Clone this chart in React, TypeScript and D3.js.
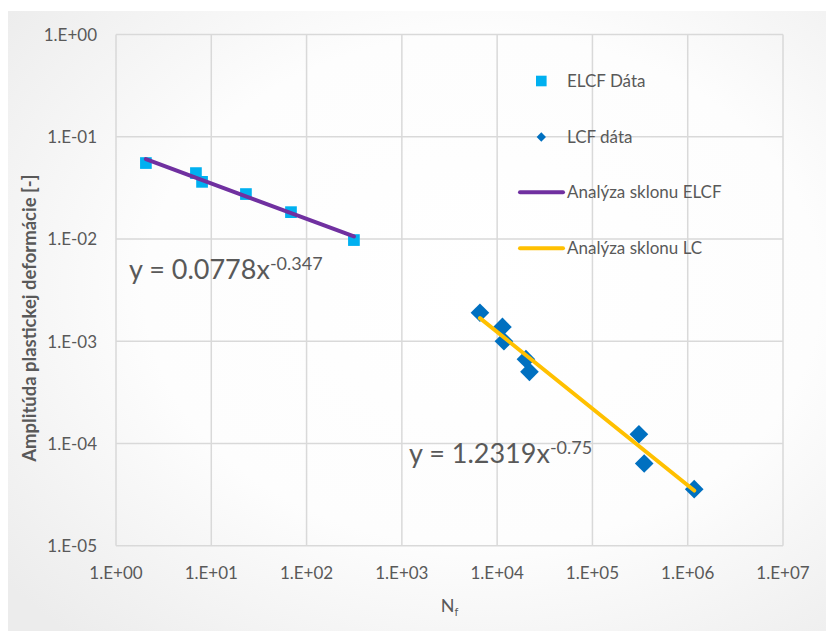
import React from "react";
import * as d3 from "d3";

const elcfN = [2.06, 6.9, 8.0, 23.1, 68.6, 314];
const elcfEps = [0.0553, 0.0441, 0.0362, 0.0275, 0.0183, 0.00976];
const lcfN = [6600, 11370, 11780, 20060, 21830, 307500, 349400, 1170000];
const lcfEps = [0.0019, 0.00138, 0.001, 0.000668, 0.000502, 0.000123, 0.0000637, 0.0000357];
const elcfFit = { a: 0.0778, b: -0.347 };
const lcfFit = { a: 1.2319, b: -0.75 };
const xTicks = [1, 10, 100, 1e3, 1e4, 1e5, 1e6, 1e7];
const xTickLabels = ["1.E+00", "1.E+01", "1.E+02", "1.E+03", "1.E+04", "1.E+05", "1.E+06", "1.E+07"];
const yTicks = [1, 0.1, 0.01, 0.001, 0.0001, 0.00001];
const yTickLabels = ["1.E+00", "1.E-01", "1.E-02", "1.E-03", "1.E-04", "1.E-05"];
const legendLabels = ["ELCF Dáta", "LCF dáta", "Analýza sklonu ELCF", "Analýza sklonu LC"];

const W = 826, H = 631;
const left = 116, right = 783, top = 34.5, bottom = 545.7;
const FONT = "Lato, 'Open Sans', sans-serif";
const TXT = "#595959";
const GRID = "#d9d9d9";

export default function App() {
  const x = d3.scaleLog().domain([1, 1e7]).range([left, right]);
  const y = d3.scaleLog().domain([1e-5, 1]).range([bottom, top]);
  const fitLine = (fit: { a: number; b: number }, xs: number[]) => {
    const [mn, mx] = d3.extent(xs) as [number, number];
    const pts: [number, number][] = [mn, mx].map((n) => [n, fit.a * Math.pow(n, fit.b)]);
    return d3.line<[number, number]>().x((d) => x(d[0])).y((d) => y(d[1]))(pts) || "";
  };
  const sq = 11.7;
  const dm = 13.2;
  return (
    <svg width={W} height={H} style={{ position: "absolute", left: 0, top: 0 }} fontFamily={FONT}>
      <defs>
        <radialGradient id="bg" cx="0.58" cy="0.45" r="0.75">
          <stop offset="0" stopColor="#ffffff" />
          <stop offset="0.55" stopColor="#fdfdfd" />
          <stop offset="1" stopColor="#ececec" />
        </radialGradient>
      </defs>
      <rect x={0} y={0} width={W} height={H} fill="#ffffff" />
      <rect x={8} y={11} width={W - 8} height={H - 11} fill="url(#bg)" />
      {/* grid */}
      {xTicks.map((t, i) => (
        <line key={"gx" + i} x1={x(t)} x2={x(t)} y1={top} y2={bottom} stroke={GRID} strokeWidth={1.5} />
      ))}
      {yTicks.map((t, i) => (
        <line key={"gy" + i} x1={left} x2={right} y1={y(t)} y2={y(t)} stroke={GRID} strokeWidth={1.5} />
      ))}
      {/* tick labels */}
      {xTicks.map((t, i) => (
        <text key={"tx" + i} x={x(t)} y={579} textAnchor="middle" fontSize={17} fill={TXT}>
          {xTickLabels[i]}
        </text>
      ))}
      {yTicks.map((t, i) => (
        <text key={"ty" + i} x={97} y={y(t) + 6.5} textAnchor="end" fontSize={17} fill={TXT}>
          {yTickLabels[i]}
        </text>
      ))}
      {/* axis titles */}
      <text
        transform={`translate(36,${(top + bottom) / 2 + 28}) rotate(-90)`}
        textAnchor="middle"
        fontSize={18.5}
        fontWeight="bold"
        fill={TXT}
      >
        Amplitúda plastickej deformácie [-]
      </text>
      <text x={(left + right) / 2} y={612} textAnchor="middle" fontSize={18} fill={TXT}>
        N<tspan fontSize={11} dy={4}>f</tspan>
      </text>
      {/* data */}
      {elcfN.map((n, i) => (
        <rect key={"s" + i} x={x(n) - sq / 2} y={y(elcfEps[i]) - sq / 2} width={sq} height={sq} fill="#00B0F0" />
      ))}
      {lcfN.map((n, i) => (
        <rect
          key={"d" + i}
          x={-dm / 2}
          y={-dm / 2}
          width={dm}
          height={dm}
          fill="#0070C0"
          transform={`translate(${x(n)},${y(lcfEps[i])}) rotate(45)`}
        />
      ))}
      <path d={fitLine(elcfFit, elcfN)} stroke="#7030A0" strokeWidth={4} fill="none" strokeLinecap="round" />
      <path d={fitLine(lcfFit, lcfN)} stroke="#FFC000" strokeWidth={4} fill="none" strokeLinecap="round" />
      {/* equations */}
      <text x={129} y={278.5} fontSize={27} fill={TXT}>
        y = {elcfFit.a}x<tspan fontSize={18} dy={-9}>{elcfFit.b}</tspan>
      </text>
      <text x={409} y={463} fontSize={27} fill={TXT}>
        y = {lcfFit.a}x<tspan fontSize={18} dy={-9}>{lcfFit.b}</tspan>
      </text>
      {/* legend */}
      <rect x={541.3 - 5.3} y={81 - 5.3} width={10.6} height={10.6} fill="#00B0F0" />
      <rect x={-3.3} y={-3.3} width={6.6} height={6.6} fill="#0070C0" transform="translate(541.3,137) rotate(45)" />
      <line x1={520} x2={563} y1={192.3} y2={192.3} stroke="#7030A0" strokeWidth={4} strokeLinecap="round" />
      <line x1={520} x2={563} y1={248.3} y2={248.3} stroke="#FFC000" strokeWidth={4} strokeLinecap="round" />
      {legendLabels.map((l, i) => (
        <text key={"l" + i} x={567} y={[81, 137, 192.3, 248.3][i] + 6} fontSize={17} fill={TXT}>
          {l}
        </text>
      ))}
    </svg>
  );
}
